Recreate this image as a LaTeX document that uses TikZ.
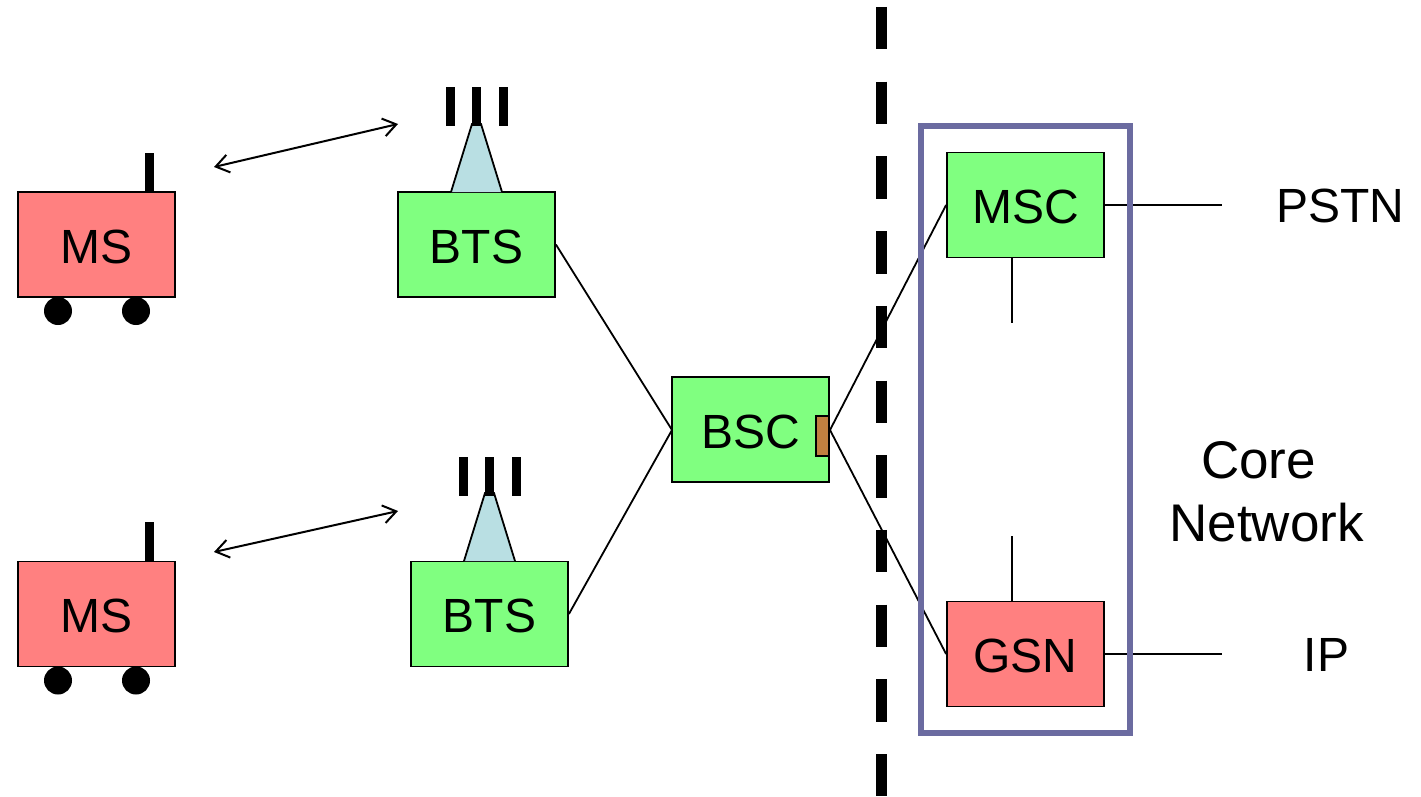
\documentclass[tikz,border=0pt]{standalone}
\usepackage{fontspec}
\setmainfont{Liberation Sans}
\usetikzlibrary{arrows.meta}
\definecolor{boxred}{HTML}{FF8080}
\definecolor{boxgreen}{HTML}{80FF80}
\definecolor{towerblue}{HTML}{B9DFE3}
\definecolor{framebl}{HTML}{6B6BA0}
\definecolor{portbrown}{HTML}{C08040}
\newcommand{\boxtext}[1]{\raisebox{-18.5pt}[0pt][0pt]{#1}}
\tikzset{
  unitbox/.style={draw=black,line width=1.8pt,minimum width=157pt,minimum height=105pt,inner sep=0pt,font=\fontsize{48}{48}\selectfont},
  redbox/.style={unitbox,fill=boxred},
  greenbox/.style={unitbox,fill=boxgreen},
  wheel/.style={circle,fill=black,minimum size=28pt,inner sep=0pt},
  bar/.style={fill=black,inner sep=0pt,minimum width=9pt,minimum height=39pt},
  tower/.style={draw=black,line width=1.8pt,fill=towerblue},
  link/.style={draw=black,line width=1.8pt},
  radio/.style={draw=black,line width=2pt,{Straight Barb[length=13pt,width=18pt]}-{Straight Barb[length=13pt,width=18pt]}},
  label/.style={inner sep=0pt,font=\fontsize{48}{48}\selectfont},
  biglabel/.style={inner sep=0pt,font=\fontsize{53}{53}\selectfont},
}
\begin{document}
\begin{tikzpicture}[x=1pt,y=-1pt]
\useasboundingbox (0,0) rectangle (1421,797);
% boundary
\coordinate (dashtop) at (881.5,7);
\coordinate (dashbot) at (881.5,796);
\draw[line width=11pt,dash pattern=on 42.5pt off 32.2pt] (dashtop) -- (dashbot);
% nodes
\node[redbox] (ms1) at (96.5,244.5) {\boxtext{MS}};
\node[redbox] (ms2) at (96.5,614) {\boxtext{MS}};
\node[greenbox] (bts1) at (476.5,244.5) {\boxtext{BTS}};
\node[greenbox] (bts2) at (489.5,614) {\boxtext{BTS}};
\node[greenbox] (bsc) at (750.5,429.5) {\boxtext{BSC}};
\node[greenbox] (msc) at (1025.5,205) {\boxtext{MSC}};
\node[redbox] (gsn) at (1025.5,654) {\boxtext{GSN}};
\node[draw=black,line width=1.8pt,fill=portbrown,minimum width=13pt,minimum height=40pt,inner sep=0pt] (port) at (822.5,436) {};
% wheels and antennas
\node[wheel] (w1) at (58,311) {};
\node[wheel] (w2) at (136,311) {};
\node[wheel] (w3) at (58,680.5) {};
\node[wheel] (w4) at (136,680.5) {};
\node[bar] (a1) at (149,172.5) {};
\node[bar] (a2) at (149,541.5) {};
% towers
\draw[tower] (451,192) -- (472,124) -- (481,124) -- (502,192);
\draw[tower] (464,561) -- (485,493) -- (494,493) -- (515,561);
\node[bar] (t11) at (450,106.5) {};
\node[bar] (t12) at (476.5,106.5) {};
\node[bar] (t13) at (503,106.5) {};
\node[bar] (t21) at (463,476) {};
\node[bar] (t22) at (489.5,476) {};
\node[bar] (t23) at (516,476) {};
% radio links
\coordinate (r1a) at (214,167);
\coordinate (r1b) at (398,124);
\coordinate (r2a) at (214,552);
\coordinate (r2b) at (398,511);
\draw[radio] (r1a) -- (r1b);
\draw[radio] (r2a) -- (r2b);
% links
\coordinate (bscw) at (672,430);
\coordinate (bsce) at (830,430);
\draw[link] (bts1.east) -- (bscw);
\draw[link] (bts2.east) -- (bscw);
\draw[link] (bsce) -- (msc.west);
\draw[link] (bsce) -- (gsn.west);
\coordinate (mscd) at (1012,323);
\coordinate (gsnu) at (1012,536);
\coordinate (mscs) at (1012,258);
\coordinate (gsns) at (1012,601);
\draw[link] (mscs) -- (mscd);
\draw[link] (gsns) -- (gsnu);
\coordinate (pstnend) at (1222,205);
\coordinate (ipend) at (1222,654);
\draw[link] (msc.east) -- (pstnend);
\draw[link] (gsn.east) -- (ipend);
% core frame
\node[draw=framebl,line width=5.5pt,minimum width=209pt,minimum height=607pt,inner sep=0pt] (core) at (1025.5,429.5) {};
% labels
\node[label] (pstn) at (1340.5,206) {PSTN};
\node[label] (ip) at (1326.5,655) {IP};
\node[biglabel] (corel) at (1258.5,460) {Core};
\node[biglabel] (netl) at (1266.5,523) {Network};
\end{tikzpicture}
\end{document}
